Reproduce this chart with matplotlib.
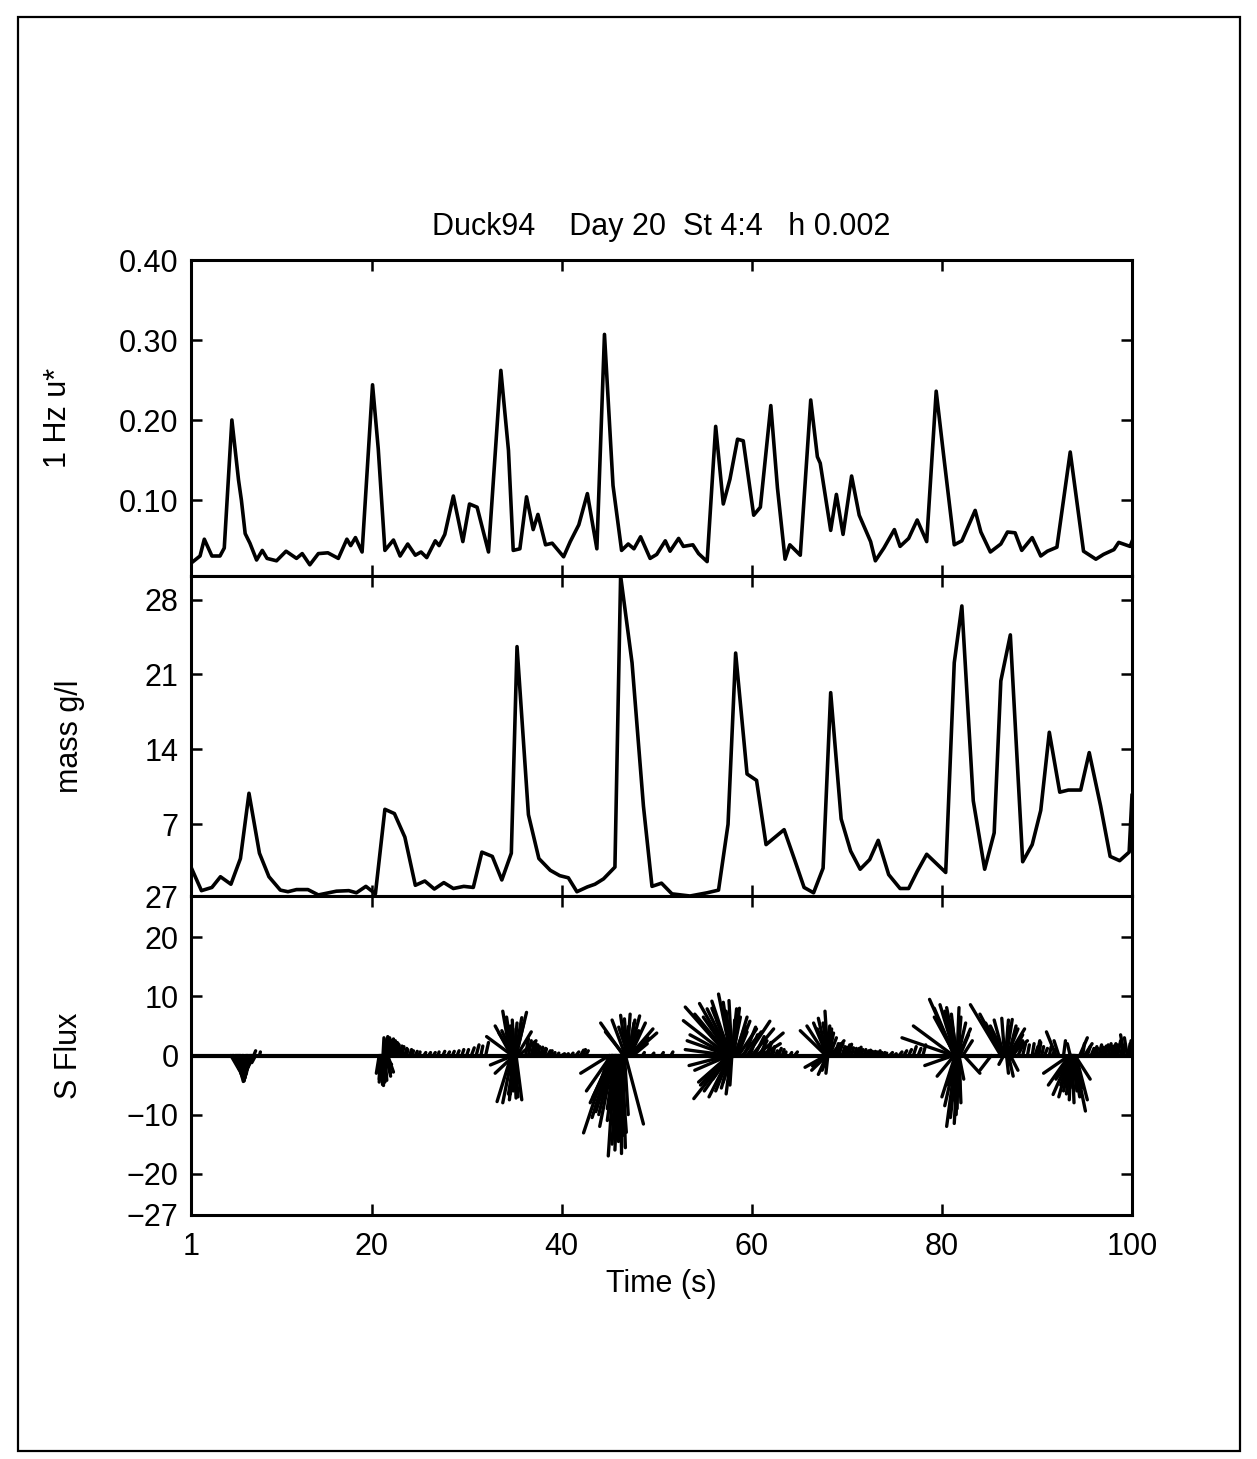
import matplotlib
matplotlib.use("Agg")
import matplotlib.pyplot as plt
from matplotlib.patches import Rectangle
from matplotlib.collections import LineCollection

plt.rcParams['font.family'] = ['Liberation Sans', 'DejaVu Sans']

# ---------------- data ----------------
title_text = "Duck94    Day 20  St 4:4   h 0.002"
xlabel_text = "Time (s)"
ylabels = ["1 Hz u*", "mass g/l", "S Flux"]
x_ticks = [1, 20, 40, 60, 80, 100]

# panel 1: 1 Hz u*
ustar_t = [1.0, 1.95, 2.4, 3.2, 4.05, 4.5, 5.3, 6.0, 6.3, 6.7, 7.2, 7.9, 8.5, 9.0, 10.0,
           11.0, 12.1, 12.7, 13.5, 14.4, 15.4, 16.5, 17.4, 17.8, 18.3, 19.0, 20.1, 20.7,
           21.4, 22.3, 23.0, 23.8, 24.6, 25.2, 25.8, 26.7, 27.1, 27.7, 28.6, 29.6, 30.3,
           31.1, 32.3, 33.6, 34.4, 34.9, 35.6, 36.3, 37.0, 37.5, 38.3, 39.0, 40.2, 40.9,
           41.8, 42.7, 43.7, 44.5, 45.4, 46.3, 47.0, 47.6, 48.3, 49.3, 50.0, 50.9, 51.4,
           52.3, 52.8, 53.8, 54.4, 55.3, 56.2, 57.0, 57.7, 58.5, 59.1, 60.2, 60.9, 62.0,
           62.7, 63.5, 64.0, 65.1, 66.2, 66.9, 67.2, 68.3, 68.9, 69.6, 70.5, 71.3, 72.5,
           73.0, 73.9, 75.0, 75.6, 76.5, 77.4, 78.4, 79.4, 80.2, 81.3, 82.1, 83.5, 84.1,
           85.1, 86.2, 86.9, 87.7, 88.4, 89.5, 90.4, 91.1, 92.1, 93.5, 94.9, 96.2, 97.0,
           98.1, 98.6, 99.8, 100.0]
ustar_vals = [0.021, 0.030, 0.051, 0.030, 0.030, 0.040, 0.200, 0.125, 0.100, 0.058, 0.046,
              0.025, 0.037, 0.027, 0.024, 0.036, 0.027, 0.033, 0.019, 0.033, 0.034, 0.027,
              0.051, 0.043, 0.053, 0.035, 0.244, 0.164, 0.037, 0.050, 0.030, 0.045, 0.031,
              0.035, 0.028, 0.049, 0.043, 0.057, 0.105, 0.048, 0.095, 0.091, 0.035, 0.262,
              0.162, 0.037, 0.039, 0.104, 0.063, 0.082, 0.044, 0.046, 0.029, 0.048, 0.069,
              0.108, 0.039, 0.307, 0.118, 0.037, 0.045, 0.039, 0.054, 0.027, 0.032, 0.049,
              0.036, 0.052, 0.042, 0.044, 0.033, 0.023, 0.192, 0.095, 0.126, 0.176, 0.174,
              0.081, 0.091, 0.218, 0.115, 0.026, 0.044, 0.031, 0.225, 0.154, 0.146, 0.062,
              0.107, 0.057, 0.130, 0.081, 0.048, 0.024, 0.040, 0.063, 0.042, 0.052, 0.075,
              0.048, 0.236, 0.154, 0.044, 0.049, 0.087, 0.060, 0.035, 0.045, 0.060, 0.059,
              0.037, 0.053, 0.030, 0.036, 0.041, 0.160, 0.036, 0.026, 0.032, 0.038, 0.047,
              0.042, 0.048]

# panel 2: mass g/l
mass_t = [1.0, 2.1, 3.2, 4.1, 5.2, 6.2, 7.1, 8.2, 9.2, 10.4, 11.2, 12.1, 13.3, 14.4, 16.3,
          17.6, 18.4, 19.4, 20.4, 21.4, 22.4, 23.5, 24.6, 25.6, 26.6, 27.6, 28.6, 29.7,
          30.7, 31.6, 32.7, 33.7, 34.7, 35.3, 36.5, 37.6, 38.8, 39.8, 40.7, 41.6, 42.7,
          43.5, 44.4, 45.6, 46.2, 47.4, 48.6, 49.5, 50.5, 51.6, 53.5, 55.3, 56.5, 57.5,
          58.3, 59.5, 60.5, 61.5, 63.4, 64.5, 65.5, 66.5, 67.5, 68.3, 69.4, 70.4, 71.4,
          72.4, 73.3, 74.4, 75.6, 76.5, 77.4, 78.4, 80.4, 81.3, 82.1, 83.3, 84.5, 85.5,
          86.2, 87.2, 88.5, 89.5, 90.4, 91.3, 92.4, 93.3, 94.6, 95.5, 96.7, 97.7, 98.7,
          99.7, 100.0]
mass_vals = [3.0, 0.8, 1.1, 2.1, 1.4, 3.8, 9.9, 4.3, 2.1, 0.85, 0.7, 0.9, 0.9, 0.4, 0.75,
             0.8, 0.6, 1.2, 0.5, 8.4, 8.0, 5.8, 1.3, 1.7, 0.95, 1.55, 1.0, 1.2, 1.1, 4.4,
             4.0, 1.8, 4.3, 23.6, 7.9, 3.8, 2.7, 2.2, 2.0, 0.7, 1.15, 1.4, 1.9, 3.0, 30.2,
             22.1, 8.7, 1.2, 1.5, 0.5, 0.3, 0.6, 0.85, 7.0, 23.0, 11.7, 11.1, 5.1, 6.5,
             3.7, 1.1, 0.6, 2.9, 19.3, 7.5, 4.5, 2.8, 3.7, 5.5, 2.3, 1.0, 1.0, 2.6, 4.2,
             2.5, 22.1, 27.4, 9.2, 2.8, 6.2, 20.4, 24.7, 3.5, 5.1, 8.3, 15.6, 10.0, 10.2,
             10.2, 13.7, 8.7, 4.0, 3.6, 4.4, 9.7]

# panel 3: sediment flux feather (base time, x-component, y-component)
feather_t = [
    5.2, 5.5, 5.8, 6.0, 6.2, 6.5, 6.8, 7.0, 7.3, 7.6, 5.9, 6.6, 7.8, 8.2, 7.6,
    20.8, 21.0, 21.2, 21.4, 21.5, 21.7, 21.0, 21.3,
    21.2, 21.5, 21.8, 22.1, 22.5, 22.8, 23.2, 23.7, 24.3, 25.0, 26.0, 27.0,
    28.5, 29.5, 30.5, 31.0, 31.5, 32.0,
    34.8, 34.7, 34.6, 34.8, 35.0, 35.0, 35.1, 35.2, 35.3, 35.5, 34.9,
    34.7, 34.8, 35.0, 35.1, 35.2, 34.9, 35.0, 34.9, 35.0,
    36.5, 37.0, 37.5, 38.0, 38.5, 39.5, 40.5, 41.5, 42.0, 42.5,
    45.0, 45.2, 45.0, 45.2, 45.3, 45.5, 45.6, 45.8, 46.0, 46.1, 46.2, 46.4, 46.5,
    46.6, 46.7, 46.3, 45.9, 46.0, 45.7, 46.2,
    46.5, 46.6, 46.7, 46.8, 46.9, 47.0, 47.1, 47.2, 47.2, 47.3, 47.5,
    48.5, 49.5, 50.5, 51.5,
    57.5, 57.5, 57.5, 57.6, 57.6, 57.7, 57.7, 57.8, 57.8, 57.9, 57.9, 58.0, 58.2,
    58.4, 58.6, 59.0, 59.5, 60.0, 60.5, 61.0, 57.6, 57.6,
    57.5, 57.5, 57.6, 57.6, 57.7, 57.7, 57.8, 57.8, 57.9, 57.6,
    62.0, 62.5, 63.5, 64.0,
    67.8, 67.8, 67.9, 67.9, 68.0, 68.0, 68.1, 68.3,
    67.8, 67.9, 67.9, 68.0, 67.9,
    69.5, 70.0, 70.5, 71.0, 71.5, 72.0, 72.5, 73.0, 73.5, 74.0, 75.0,
    81.2, 81.2, 81.3, 81.3, 81.4, 81.5, 81.5, 81.6, 81.7, 81.8,
    81.2, 81.3, 81.4, 81.5, 81.6, 81.7, 81.7, 81.8, 81.6, 81.8,
    82.3, 85.2,
    86.2, 86.3, 86.4, 86.5, 86.6, 86.7, 86.8, 86.9, 87.0, 87.2,
    86.8, 87.0, 87.2, 86.5,
    89.5, 90.0, 90.5,
    93.4, 93.4, 93.5, 93.5, 93.6, 93.6, 93.7, 93.8, 93.9, 94.0, 93.6,
    92.0, 92.3, 92.8, 93.5, 94.5, 95.0,
    96.0, 96.5, 97.0, 97.5, 98.0, 98.5, 99.2, 99.5, 99.8, 99.0,
]
feather_u = [
    0.9, 0.8, 0.6, 0.5, 0.3, 0.1, -0.2, -0.3, -0.5, -0.6, 0.4, 0.0, -0.4, 0.1, 0.2,
    -0.3, -0.2, 0.0, 0.2, 0.5, 0.6, 0.5, 0.8,
    0.1, 0.2, 0.3, 0.2, 0.2, 0.1, 0.2, 0.1, 0.1, 0.1, 0.2, 0.1,
    0.2, 0.2, 0.3, 0.3, 0.2, 0.3,
    -2.7, -1.7, -0.8, -0.6, -0.2, 0.3, 0.7, 1.1, 1.5, 1.8, -1.5,
    -1.5, -1.0, -0.5, 0.3, 0.6, -2.4, -2.0, -0.3, -0.1,
    0.3, 0.3, 0.2, 0.3, 0.3, 0.2, 0.2, 0.3, 0.3, 0.3,
    -2.7, -2.0, -3.0, -2.6, -2.3, -1.5, -0.7, -0.5, -0.4, -0.2, 0.1, 0.3, -0.1,
    0.4, 1.9, -0.4, -0.5, 0.0, -0.9, 0.6,
    -2.4, -2.0, -1.4, -0.6, 0.3, 0.7, 1.1, 1.6, 2.4, 2.7, 1.5,
    0.2, 0.2, 0.2, 0.2,
    -4.7, -4.5, -4.0, -3.6, -3.1, -2.4, -1.9, -1.3, -0.8, -0.3, 0.5, 0.8, 1.1,
    1.4, 1.9, 2.0, 2.4, 2.3, 2.8, 2.0, -4.4, -4.6,
    -4.1, -3.6, -3.2, -2.6, -2.2, -1.5, -1.0, -0.5, -0.2, -3.6,
    0.2, 0.2, 0.1, 0.2,
    -2.7, -2.0, -1.4, -0.9, -0.3, 0.2, 0.5, 1.0,
    -2.2, -1.6, -0.9, -0.2, -1.1,
    0.3, 0.3, 0.2, 0.3, 0.2, 0.3, 0.2, 0.2, 0.2, 0.2, 0.2,
    -5.4, -4.2, -2.6, -2.1, -1.6, -1.0, -0.5, 0.2, 0.8, 1.2,
    -3.0, -1.8, -1.4, -1.0, -0.7, -0.4, -0.1, 0.2, -0.9, 0.5,
    1.7, -1.2,
    -3.2, -2.3, -1.8, -1.0, -0.3, 0.3, 0.6, 1.1, 1.7, 1.8,
    0.2, 0.5, 0.8, -0.5,
    0.2, 0.3, 0.2,
    -2.7, -2.2, -1.8, -1.2, -0.8, -0.2, 0.2, 0.7, 1.2, 1.6, -1.6,
    -1.0, -0.5, 0.2, -0.3, 0.8, 0.8,
    0.3, 0.3, 0.3, 0.3, 0.3, 0.3, -0.4, -0.3, 0.1, 0.3,
]
feather_v = [
    -2.5, -3.2, -3.8, -4.2, -4.4, -4.3, -4.0, -3.6, -2.8, -2.0, -3.0, -3.5, -1.2, 0.6, 0.8,
    -3.0, -4.5, -5.0, -4.2, -3.5, -2.8, -2.0, -1.5,
    3.0, 3.2, 2.6, 2.8, 2.2, 1.8, 1.5, 1.0, 0.8, 0.6, 0.5, 0.6,
    0.7, 1.0, 1.3, 1.8, 1.6, 2.2,
    3.2, 5.0, 7.5, 6.5, 6.0, 5.5, 6.4, 7.3, 4.0, 2.5, 3.8,
    -7.8, -8.0, -7.5, -7.0, -7.5, -1.6, -3.0, -6.5, -5.0,
    2.5, 2.0, 1.5, 1.2, 0.8, 0.4, 0.3, 0.6, 0.9, 0.8,
    -13.1, -10.5, -3.0, -6.0, -8.0, -12.0, -17.0, -15.0, -16.0, -14.0, -15.5, -15.6, -12.0,
    -10.0, -11.6, -9.0, -7.0, -5.0, -11.0, -13.0,
    5.5, 4.0, 6.0, 6.8, 7.0, 6.0, 6.7, 5.5, 4.5, 3.8, 2.0,
    0.5, 0.4, 0.5, 0.6,
    5.9, 8.2, 3.5, 7.0, 8.8, 7.9, 9.2, 10.4, 9.0, 9.3, 7.9, 6.5, 5.0,
    5.8, 4.5, 4.0, 5.8, 4.5, 3.8, 2.0, 2.5, 1.0,
    -1.7, -7.3, -4.5, -6.0, -7.0, -6.0, -5.5, -6.5, -5.0, -2.5,
    1.0, 0.8, 0.6, 0.5,
    4.2, 5.0, 5.5, 6.3, 7.5, 5.0, 3.8, 2.0,
    -2.0, -2.5, -3.2, -3.0, -1.2,
    1.5, 1.8, 1.3, 1.2, 1.0, 0.8, 0.7, 0.6, 0.5, 0.4, 0.3,
    3.0, 5.0, 9.5, 8.0, 8.6, 8.1, 7.0, 8.1, 5.5, 4.5,
    -1.7, -3.5, -7.0, -12.0, -10.5, -11.5, -9.0, -8.0, -5.0, -4.0,
    -3.0, -2.5,
    8.6, 7.0, 5.5, 6.0, 6.3, 6.0, 6.1, 4.5, 4.5, 2.5,
    -3.0, -3.5, -2.5, -1.5,
    2.0, 2.5, 1.5,
    -3.0, -5.0, -6.6, -7.0, -6.0, -7.5, -8.0, -7.0, -9.4, -4.0, -4.0,
    4.0, 2.5, 2.5, 2.0, 3.0, 2.0,
    1.5, 1.8, 1.6, 2.0, 2.0, 2.5, 3.5, 3.0, 2.5, 1.5,
]

# further vectors read from the denser parts of each cluster
feather_t += [5.4, 5.7, 6.1, 6.4, 6.9, 7.2, 7.4,
              20.9, 21.1, 21.3, 21.6, 21.4, 21.7, 22.0,
              22.3, 22.6, 23.0, 23.5, 24.0, 24.6, 25.5, 26.5, 27.5, 28.0, 29.0, 30.0,
              34.9, 35.0, 35.0, 35.1, 34.9, 35.0, 35.1, 35.2, 34.9,
              36.2, 36.8, 37.2, 37.8, 38.2, 38.8, 39.0, 40.0, 41.0, 42.2,
              45.7, 45.8, 45.9, 46.0, 46.1, 46.2, 46.3, 46.4, 45.6, 45.4, 45.3, 45.4,
              46.9, 47.0, 47.1, 47.2, 47.0, 47.3,
              57.7, 57.8, 57.8, 57.9, 58.0, 58.1, 58.3, 58.5, 59.2, 59.8, 60.3, 60.8, 61.5,
              57.6, 57.7, 57.8, 57.9, 57.7,
              61.2, 61.7, 62.2, 62.8, 63.2, 64.5,
              67.9, 68.0, 68.1, 68.2, 68.5, 69.0, 68.0, 67.9,
              68.8, 69.2, 69.8, 70.2, 70.8, 71.2, 71.8, 72.2, 72.8, 73.2, 73.8, 74.5,
              75.5, 76.0, 76.5, 77.0, 77.5, 78.0,
              81.4, 81.5, 81.6, 81.7, 81.9, 82.2, 81.6, 81.7, 81.8, 81.5,
              86.6, 86.8, 87.0, 87.3, 87.5, 88.0,
              88.5, 89.0, 89.8, 90.2, 90.8, 91.3, 91.6,
              93.6, 93.7, 93.8, 93.5, 93.9, 94.1,
              94.8, 95.3, 95.7, 96.2, 96.8, 97.2, 97.8, 98.2, 98.8, 99.6]
feather_u += [0.9, 0.7, 0.4, 0.2, -0.2, -0.4, -0.5,
              -0.1, 0.0, 0.1, 0.4, 0.2, 0.2, 0.3,
              0.2, 0.2, 0.2, 0.2, 0.2, 0.2, 0.2, 0.2, 0.2, 0.2, 0.2, 0.2,
              -0.4, -0.1, 0.2, -0.7, 0.0, -0.4, 0.1, 0.8, -1.2,
              0.3, 0.3, 0.3, 0.2, 0.2, 0.2, 0.3, 0.3, 0.2, 0.3,
              -0.2, -0.1, 0.0, 0.1, -0.1, 0.0, 0.2, 0.0, -0.8, -1.5, -2.0, -1.8,
              -0.3, 0.0, 0.5, 0.9, -1.0, 1.8,
              -2.8, -2.0, -1.5, -0.6, 0.2, 0.6, 1.2, 1.0, 1.2, 0.8, 1.0, 0.8, 0.6,
              -3.0, -1.8, -0.8, -0.3, -2.5,
              0.2, 0.3, 0.2, 0.3, 0.2, 0.3,
              -1.0, -0.5, 0.3, 0.7, 1.2, 0.6, -0.6, -1.5,
              0.3, 0.2, 0.2, 0.3, 0.2, 0.3, 0.2, 0.3, 0.2, 0.3, 0.2, 0.3,
              0.3, 0.3, 0.3, 0.3, 0.3, 0.3,
              -2.2, -1.2, -0.6, 0.3, 0.9, 1.0, -0.4, -0.2, 0.1, -1.2,
              -1.5, 0.2, 0.8, 1.2, 1.0, 0.6,
              0.3, 0.2, 0.3, 0.2, 0.3, 0.2, 0.3,
              -0.5, -0.2, 0.4, -1.0, 0.8, 1.2,
              0.2, 0.3, 0.3, 0.2, 0.2, 0.3, 0.2, 0.3, 0.2, 0.2]
feather_v += [-2.8, -3.5, -4.0, -4.1, -3.8, -3.2, -2.4,
              -4.0, -4.8, -4.5, -3.0, 2.8, 3.0, 2.5,
              2.5, 2.0, 1.6, 1.2, 1.0, 0.7, 0.5, 0.5, 0.7, 0.6, 0.8, 1.0,
              -6.8, -6.0, -7.2, -6.5, -4.5, 5.0, 4.5, 5.5, 4.2,
              2.8, 2.2, 1.8, 1.4, 1.1, 0.8, 0.5, 0.3, 0.4, 1.0,
              -13.0, -11.0, -14.5, -12.5, -10.0, -16.5, -13.5, -11.0, -9.0, -10.0, -7.0, -9.5,
              6.2, 5.0, 5.5, 4.2, 4.8, 3.0,
              6.5, 8.0, 6.0, 7.5, 6.0, 8.0, 6.5, 4.0, 4.8, 3.5, 3.2, 2.5, 2.2,
              -5.0, -4.0, -4.5, -3.0, -3.5,
              2.8, 2.2, 1.5, 1.2, 1.0, 0.6,
              4.5, 5.5, 4.5, 3.0, 2.5, 2.0, -2.5, -1.8,
              2.0, 1.6, 1.4, 1.9, 1.2, 1.4, 1.0, 0.9, 0.7, 0.8, 0.5, 0.5,
              0.6, 0.8, 1.0, 1.5, 1.2, 1.8,
              6.5, 7.5, 6.0, 6.5, 3.5, 2.5, -7.5, -10.0, -6.0, -8.5,
              5.0, 5.0, 5.0, 3.5, 2.5, 2.0,
              2.0, 1.8, 1.5, 2.2, 1.2, 1.5, 1.0,
              -6.5, -5.5, -6.0, -5.0, -5.5, -7.5,
              2.0, 1.5, 1.2, 1.2, 1.4, 1.8, 1.6, 1.8, 1.6, 2.0]

# ---------------- figure ----------------
W, H = 1257, 1459
fig = plt.figure(figsize=(W / 100, H / 100), dpi=100)
fig.patch.set_facecolor('white')

# page frame
fig.add_artist(Rectangle((18 / W, 1 - 1451 / H), (1240 - 18) / W, (1451 - 17) / H,
                         transform=fig.transFigure, fill=False, lw=1.6, ec='black'))

left = 191 / W
width = (1132 - 191) / W
edges = [260, 576, 896, 1215]
axes = []
for i in range(3):
    top, bot = edges[i], edges[i + 1]
    ax = fig.add_axes([left, 1 - bot / H, width, (bot - top) / H])
    axes.append(ax)

lw_line = 2.6
fs = 22
for ax in axes:
    ax.set_xlim(1, 100)
    ax.set_xticks(x_ticks)
    for s in ax.spines.values():
        s.set_linewidth(2.2)
    ax.tick_params(direction='in', length=8, width=1.8, top=True, right=True,
                   labelsize=fs, pad=9)

ax1, ax2, ax3 = axes
ax1.plot(ustar_t, ustar_vals, color='black', lw=lw_line)
ax1.set_ylim(0.005, 0.40)
ax1.set_yticks([0.10, 0.20, 0.30, 0.40])
ax1.set_yticklabels(["%.2f" % v for v in [0.10, 0.20, 0.30, 0.40]])
ax1.tick_params(labelbottom=False)
ax1.set_title(title_text, fontsize=fs, pad=18)

ax2.plot(mass_t, mass_vals, color='black', lw=lw_line)
ax2.set_ylim(0.3, 30.2)
ax2.set_yticks([7, 14, 21, 28])
ax2.tick_params(labelbottom=False)

segs = [[(t, 0.0), (t + u, v)] for t, u, v in zip(feather_t, feather_u, feather_v)]
ax3.add_collection(LineCollection(segs, colors='black', linewidths=2.4, capstyle='round'))
ax3.plot([1, 100], [0, 0], color='black', lw=3.0)
ax3.set_ylim(-27, 27)
ax3.set_yticks([-27, -20, -10, 0, 10, 20, 27])
ax3.tick_params(axis='x', pad=12)
ax3.set_xlabel(xlabel_text, fontsize=fs, labelpad=5)

for ax, lab, xc in zip(axes, ylabels, [-0.125, -0.113, -0.114]):
    ax.set_ylabel(lab, fontsize=fs)
    ax.yaxis.set_label_coords(xc, 0.5)

fig.savefig("out.png", dpi=100, facecolor='white')
